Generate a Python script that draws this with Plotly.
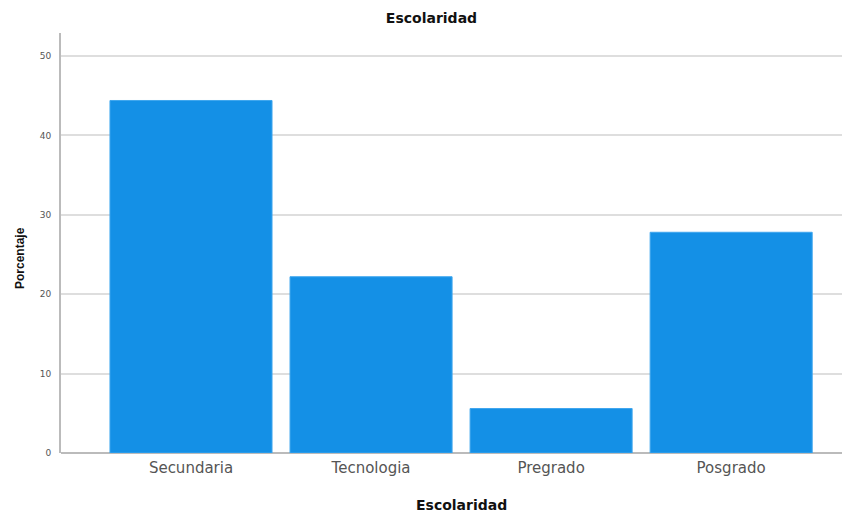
import plotly.graph_objects as go

categories = ["Secundaria", "Tecnologia", "Pregrado", "Posgrado"]
porcentaje = [44.4, 22.2, 5.6, 27.8]
y_ticks = [0, 10, 20, 30, 40, 50]

W, H = 842, 507
L, T, B = 53, 25, 62
PW, PH = W - L, H - T - B

fig = go.Figure(
    go.Bar(
        x=categories,
        y=porcentaje,
        marker=dict(color="#1490E6", line=dict(color="#3FA6EE", width=1)),
        width=0.9,
    )
)

fig.update_layout(
    width=W,
    height=H,
    margin=dict(l=L, r=0, t=T, b=B),
    paper_bgcolor="white",
    plot_bgcolor="white",
    showlegend=False,
    font=dict(family="DejaVu Sans, Liberation Sans, sans-serif", color="#444"),
    title=dict(
        text="<b>Escolaridad</b>",
        x=423.5 / W,
        xanchor="center",
        y=1 - 10 / H,
        yanchor="middle",
        font=dict(size=14, color="#111"),
    ),
    xaxis=dict(
        type="category",
        range=[-0.722, 3.66],
        showgrid=False,
        showline=False,
        ticks="",
        tickfont=dict(size=15, color="#555"),
        ticklabelstandoff=4,
        fixedrange=True,
    ),
    yaxis=dict(
        range=[0, 52.9],
        tickvals=y_ticks,
        showgrid=True,
        gridcolor="#DEDEDE",
        gridwidth=1.5,
        showline=True,
        linecolor="#BBBBBB",
        linewidth=2,
        ticks="",
        tickfont=dict(size=9, color="#555"),
        ticklabelstandoff=6,
        zeroline=True,
        zerolinecolor="#BBBBBB",
        zerolinewidth=2,
    ),
    annotations=[
        dict(
            text="<b>Porcentaje</b>",
            xref="paper", yref="paper",
            x=(12 - L) / PW, y=(445 - 250) / PH,
            xanchor="center", yanchor="middle",
            textangle=-90, showarrow=False,
            font=dict(size=12, color="#111", family="Liberation Sans, Arial, sans-serif"),
        ),
        dict(
            text="<b>Escolaridad</b>",
            xref="paper", yref="paper",
            x=(453.5 - L) / PW, y=-(497 - 445) / PH,
            xanchor="center", yanchor="middle",
            showarrow=False,
            font=dict(size=14, color="#111"),
        ),
    ],
)

fig.write_html("out.html")
